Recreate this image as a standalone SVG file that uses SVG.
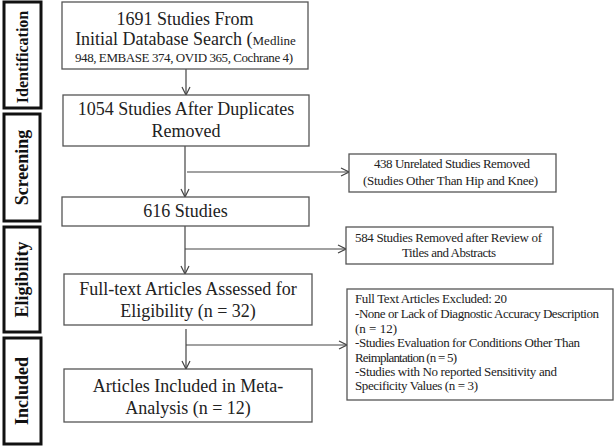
<svg xmlns="http://www.w3.org/2000/svg" width="615" height="447" viewBox="0 0 615 447">
<defs>
<style>
.stage rect{fill:#fff;stroke:#111;stroke-width:3}
.stage text{font-family:"Liberation Serif","Times New Roman",serif;font-weight:bold;font-size:18px;fill:#111;text-anchor:middle}
.box rect{fill:#fff;stroke:#555;stroke-width:1.3}
.box text{font-family:"Liberation Serif","Times New Roman",serif;font-size:18px;fill:#222;text-anchor:middle}
.box .sm{font-size:13px}
.side rect{fill:#fff;stroke:#555;stroke-width:1.3}
.side text{font-family:"Liberation Serif","Times New Roman",serif;font-size:13px;fill:#222}
.side .c{text-anchor:middle}
.conn path{fill:none;stroke:#444;stroke-width:1.2}
</style>
<marker id="arr" viewBox="0 0 10 10" refX="9" refY="5" markerWidth="10" markerHeight="10" markerUnits="userSpaceOnUse" orient="auto">
<path d="M1,1 L9,5 L1,9" fill="none" stroke="#444" stroke-width="1.2"/>
</marker>
</defs>
<rect width="615" height="447" fill="#fff"/>

<g id="stage-identification" class="stage"><rect x="4" y="2" width="37" height="106"/><text transform="translate(28,57) rotate(-90)" style="font-size:16px">Identification</text></g>
<g id="stage-screening" class="stage"><rect x="4" y="114" width="36" height="107"/><text transform="translate(28,167.5) rotate(-90)">Screening</text></g>
<g id="stage-eligibility" class="stage"><rect x="4" y="227" width="36" height="105"/><text transform="translate(28,279.5) rotate(-90)">Eligibility</text></g>
<g id="stage-included" class="stage"><rect x="4" y="338" width="37" height="106"/><text transform="translate(28,391) rotate(-90)">Included</text></g>

<g id="connectors" class="conn">
<path d="M186,69 V95" marker-end="url(#arr)"/>
<path d="M185,146 V197" marker-end="url(#arr)"/>
<path d="M187,172 H349" marker-end="url(#arr)"/>
<path d="M185,226 V274" marker-end="url(#arr)"/>
<path d="M185,249 H346" marker-end="url(#arr)"/>
<path d="M186,329 V369" marker-end="url(#arr)"/>
<path d="M186,345 H347" marker-end="url(#arr)"/>
</g>

<g id="n1" class="box"><rect x="62" y="2" width="246" height="67"/>
<text x="185" y="25">1691 Studies From</text>
<text x="185.5" y="45">Initial Database Search (<tspan class="sm">Medline</tspan></text>
<text x="184" y="62" class="sm" textLength="218" lengthAdjust="spacing">948, EMBASE 374, OVID 365, Cochrane 4)</text></g>

<g id="n2" class="box"><rect x="63" y="95" width="246" height="51"/>
<text x="186" y="115">1054 Studies After Duplicates</text>
<text x="186" y="137">Removed</text></g>

<g id="n3" class="box"><rect x="62" y="197" width="247" height="29"/>
<text x="185.5" y="217">616 Studies</text></g>

<g id="n4" class="box"><rect x="64" y="274" width="248" height="51"/>
<text x="188" y="295">Full-text Articles Assessed for</text>
<text x="188" y="317">Eligibility  (n = 32)</text></g>

<g id="n5" class="box"><rect x="64" y="369" width="248" height="53"/>
<text x="188" y="392">Articles Included in Meta-</text>
<text x="188" y="414">Analysis (n = 12)</text></g>

<g id="x1" class="side"><rect x="349" y="154" width="207" height="38"/>
<text x="452" y="168" class="c" textLength="156" lengthAdjust="spacing">438 Unrelated Studies Removed</text>
<text x="450.5" y="185" class="c" textLength="175" lengthAdjust="spacing">(Studies Other Than Hip and Knee)</text></g>

<g id="x2" class="side"><rect x="346" y="227" width="207" height="37"/>
<text x="448.5" y="242" class="c" textLength="187" lengthAdjust="spacing">584 Studies Removed after Review of</text>
<text x="449" y="257" class="c" textLength="94" lengthAdjust="spacing">Titles and Abstracts</text></g>

<g id="x3" class="side"><rect x="347" y="289" width="266" height="111"/>
<text x="355" y="303" textLength="152" lengthAdjust="spacing">Full Text Articles Excluded: 20</text>
<text x="355" y="318" textLength="244" lengthAdjust="spacing">-None or Lack of Diagnostic Accuracy Description</text>
<text x="355" y="333">(n = 12)</text>
<text x="355" y="347" textLength="225" lengthAdjust="spacing">-Studies Evaluation for Conditions Other Than</text>
<text x="355" y="362" textLength="102" lengthAdjust="spacing">Reimplantation (n = 5)</text>
<text x="355" y="376" textLength="202" lengthAdjust="spacing">-Studies with No reported Sensitivity and</text>
<text x="355" y="390" textLength="123" lengthAdjust="spacing">Specificity Values (n = 3)</text></g>
</svg>
